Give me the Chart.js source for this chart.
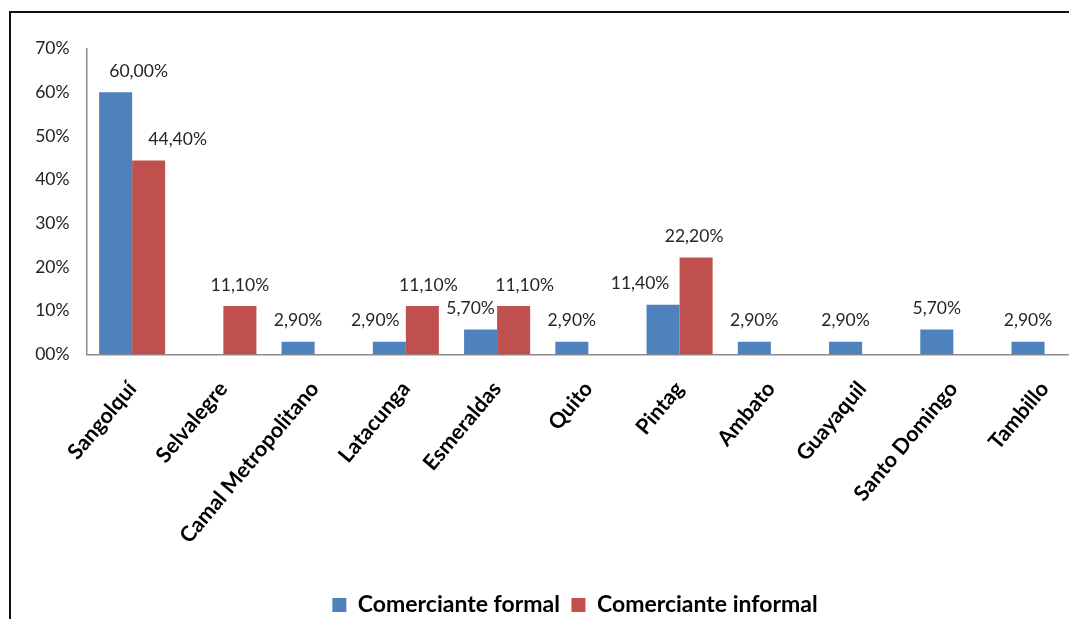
<!DOCTYPE html>
<html>
<head>
<meta charset="utf-8">
<script src="https://cdn.jsdelivr.net/npm/chart.js@4.4.1/dist/chart.umd.min.js"></script>
<style>
  html, body { margin: 0; padding: 0; background: #fff; overflow: hidden; width: 1069px; height: 619px; }
  #frame { position: absolute; left: 9px; top: 11px; width: 1200px; height: 700px; border-left: 2px solid #111; border-top: 2px solid #111; pointer-events: none; }
  #wrap { position: absolute; left: 0; top: 0; width: 1150px; height: 630px; }
</style>
</head>
<body>
<div id="frame"></div>
<div id="wrap"><canvas id="c" width="1150" height="630" style="width:1150px;height:630px"></canvas></div>
<script>
const categories = ['Sangolquí', 'Selvalegre', 'Camal Metropolitano', 'Latacunga', 'Esmeraldas', 'Quito', 'Pintag', 'Ambato', 'Guayaquil', 'Santo Domingo', 'Tambillo'];
const seriesNames = ['Comerciante formal', 'Comerciante informal'];
const formal = [60.0, null, 2.9, 2.9, 5.7, 2.9, 11.4, 2.9, 2.9, 5.7, 2.9];
const informal = [44.4, 11.1, null, 11.1, 11.1, null, 22.2, null, null, null, null];
const yTickValues = [0, 10, 20, 30, 40, 50, 60, 70];
const yTickLabels = ['00%', '10%', '20%', '30%', '40%', '50%', '60%', '70%'];

const fmt = v => v.toFixed(2).replace('.', ',') + '%';

const valueLabels = {
  id: 'valueLabels',
  afterDatasetsDraw(chart, args, opts) {
    const ctx = chart.ctx;
    ctx.save();
    ctx.font = opts.font;
    ctx.fillStyle = opts.color;
    ctx.textAlign = 'center';
    ctx.textBaseline = 'middle';
    chart.data.datasets.forEach((ds, di) => {
      const meta = chart.getDatasetMeta(di);
      meta.data.forEach((bar, i) => {
        const v = ds.data[i];
        if (v === null || v === undefined) return;
        const dx = (opts.offsets[di] || [])[i] || 0;
        ctx.fillText(fmt(v), bar.x + dx, bar.y - opts.gap);
      });
    });
    ctx.restore();
  }
};

new Chart(document.getElementById('c'), {
  type: 'bar',
  data: {
    labels: categories,
    datasets: [
      { label: seriesNames[0], data: formal, backgroundColor: '#4F81BD', borderWidth: 0, yAxisID: 'y' },
      { label: seriesNames[1], data: informal, backgroundColor: '#C0504D', borderWidth: 0, yAxisID: 'y' }
    ]
  },
  options: {
    responsive: false,
    animation: false,
    devicePixelRatio: 1,
    datasets: { bar: { categoryPercentage: 0.724, barPercentage: 1.0 } },
    layout: { padding: { left: 0, right: 0, top: 48.5, bottom: 3.5 } },
    scales: {
      x: {
        offset: true,
        grid: { display: false, drawTicks: false },
        border: { display: true, color: '#8c8c8c', width: 1.5 },
        ticks: {
          autoSkip: false, minRotation: 50, maxRotation: 50, padding: 22,
          color: '#000', font: { family: 'Lato', size: 21.5, weight: 'bold' }
        },
        afterFit(s) { s.height = 227.5; }
      },
      y: {
        position: 'left',
        min: 0, max: 70,
        afterBuildTicks(s) { s.ticks = yTickValues.map(v => ({ value: v })); },
        grid: { display: false, drawTicks: false },
        border: { display: true, color: '#8c8c8c', width: 1.5 },
        ticks: {
          padding: 17, color: '#222',
          font: { family: 'Lato', size: 17.5 },
          callback: (v) => yTickLabels[yTickValues.indexOf(v)]
        },
        afterFit(s) { s.width = 86.5; }
      },
      spacer: {
        position: 'right',
        grid: { display: false, drawTicks: false },
        border: { display: false },
        ticks: { display: false },
        afterFit(s) { s.width = 59.8; }
      }
    },
    plugins: {
      legend: {
        position: 'bottom',
        labels: {
          boxWidth: 14, boxHeight: 14, padding: 11.5, color: '#000',
          font: { family: 'Lato', size: 23, weight: 'bold' }
        }
      },
      tooltip: { enabled: false },
      valueLabels: {
        font: '17.5px Lato', color: '#262626', gap: 21,
        offsets: [
          [23, 0, 0, -14, -10, 0, -23, 0, 0, 0, 0],
          [29, 0, 0, 6, 11, 0, -2, 0, 0, 0, 0]
        ]
      }
    }
  },
  plugins: [valueLabels]
});
</script>
</body>
</html>
